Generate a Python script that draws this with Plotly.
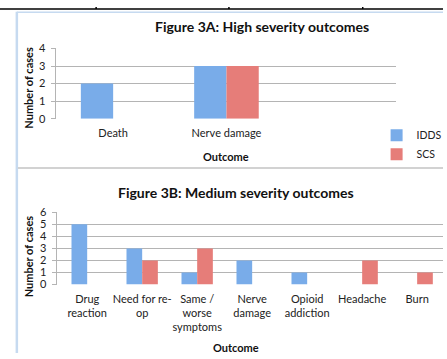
import plotly.graph_objects as go

W, H = 447, 359

# ---- data ----
cats_a = ["Death", "Nerve damage"]
idds_a = [2, 3]
scs_a = [0, 3]

cats_b = ["Drug<br>reaction", "Need for re-<br>op", "Same /<br>worse<br>symptoms",
          "Nerve<br>damage", "Opioid<br>addiction", "Headache", "Burn"]
idds_b = [5, 3, 1, 2, 1, 0, 0]
scs_b = [0, 2, 3, 0, 0, 2, 1]

series_names = ["IDDS", "SCS"]
BLUE = "#79ace9"
RED = "#e67d79"
FONT = "Lato"

def px(x):
    return x / W

def py(y):
    return 1 - y / H

fig = go.Figure()
fig.add_bar(x=cats_a, y=idds_a, name=series_names[0], marker_color=BLUE,
            xaxis="x", yaxis="y", showlegend=True)
fig.add_bar(x=cats_a, y=scs_a, name=series_names[1], marker_color=RED,
            xaxis="x", yaxis="y", showlegend=True)
fig.add_bar(x=cats_b, y=idds_b, name=series_names[0], marker_color=BLUE,
            xaxis="x2", yaxis="y2", showlegend=False)
fig.add_bar(x=cats_b, y=scs_b, name=series_names[1], marker_color=RED,
            xaxis="x2", yaxis="y2", showlegend=False)
fig.update_traces(marker_line_width=0)

grid = "#b4b4b4"
tickfont = dict(family=FONT, size=11, color="#222222")
common_x = dict(type="category", showgrid=False, showline=False, ticks="",
                tickangle=0, ticklabelstandoff=6,
                tickfont=tickfont, zeroline=False, fixedrange=True)
common_y = dict(showgrid=True, gridcolor=grid, gridwidth=1, showline=True,
                linecolor=grid, linewidth=1, ticks="outside", ticklen=4,
                tickcolor=grid, tickfont=tickfont, dtick=1, zeroline=False,
                ticklabelstandoff=4)

fig.update_layout(
    width=W, height=H,
    margin=dict(l=0, r=0, t=0, b=0),
    paper_bgcolor="white", plot_bgcolor="white",
    barmode="group", bargap=0.43, bargroupgap=0,
    font=dict(family=FONT, color="#222222"),
    xaxis=dict(common_x, domain=[px(57), px(400)], range=[-0.5, 2.5], anchor="y"),
    yaxis=dict(common_y, domain=[py(116), py(43)], range=[0, 4], anchor="x"),
    xaxis2=dict(common_x, domain=[px(58), 1], range=[-0.54, 6.47], anchor="y2"),
    yaxis2=dict(common_y, domain=[py(288), py(213)], range=[0, 6], anchor="x2"),
    legend=dict(x=px(380), y=py(118), xanchor="left", yanchor="top",
                font=dict(family=FONT, size=10.5, color="#222222"),
                bgcolor="rgba(0,0,0,0)", itemwidth=30, tracegroupgap=0,
                borderwidth=0),
)

ann = []
ann.append(dict(text="<b>Figure 3A: High severity outcomes</b>", x=px(264), y=py(20),
                font=dict(family=FONT, size=14, color="#111111")))
ann.append(dict(text="<b>Figure 3B: Medium severity outcomes</b>", x=px(238), y=py(192),
                font=dict(family=FONT, size=14, color="#111111")))
ann.append(dict(text="<b>Outcome</b>", x=px(228), y=py(155),
                font=dict(family=FONT, size=11, color="#111111")))
ann.append(dict(text="<b>Outcome</b>", x=px(238), y=py(353),
                font=dict(family=FONT, size=11, color="#111111")))
ann.append(dict(text="<b>Number of cases</b>", x=px(29), y=py(84), textangle=-90,
                font=dict(family=FONT, size=11, color="#111111")))
ann.append(dict(text="<b>Number of cases</b>", x=px(29), y=py(259), textangle=-90,
                font=dict(family=FONT, size=11, color="#111111")))
for a in ann:
    a.update(xref="paper", yref="paper", showarrow=False, xanchor="center", yanchor="middle")
fig.update_layout(annotations=ann)

shapes = []
# document table line at top
shapes.append(dict(type="line", x0=0, x1=1, y0=py(2), y1=py(2), line=dict(color="black", width=1.5)))
for xv in (97, 231, 366):
    shapes.append(dict(type="line", x0=px(xv), x1=px(xv), y0=1, y1=py(2), line=dict(color="black", width=1.5)))
# light blue frame
shapes.append(dict(type="line", x0=px(17), x1=px(17), y0=py(5), y1=0, line=dict(color="#c6daf0", width=2.5)))
shapes.append(dict(type="line", x0=px(17), x1=1, y0=py(5.5), y1=py(5.5), line=dict(color="#c6daf0", width=1.5)))
# separator
shapes.append(dict(type="line", x0=px(18), x1=1, y0=py(167), y1=py(167), line=dict(color="#d2d2d2", width=2)))
for s in shapes:
    s.update(xref="paper", yref="paper", layer="above")
fig.update_layout(shapes=shapes)

fig.write_html("out.html", config={"displayModeBar": False},
               post_script="document.body.style.margin='0';document.body.style.padding='0';")
